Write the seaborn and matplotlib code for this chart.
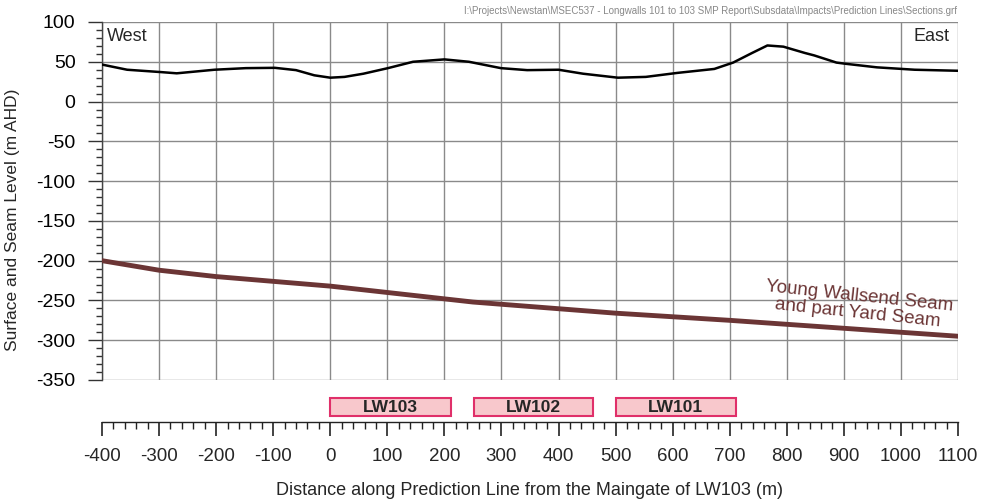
import numpy as np
import pandas as pd
import matplotlib
matplotlib.use("Agg")
import matplotlib.pyplot as plt
import seaborn as sns
from matplotlib.ticker import MultipleLocator

# ---- data ----
surf_x = [-400, -356, -296, -269, -247, -203, -148, -97, -60, -28, 0, 25, 58, 101,
          145, 200, 243, 299, 345, 400, 443, 504, 553, 608, 673, 706, 739, 766,
          794, 832, 848, 887, 903, 958, 1024, 1100]
surf_y = [46.5, 40, 37, 35.5, 37, 40, 42, 42.4, 39.5, 33, 30, 31, 35, 42,
          50, 53, 50, 42, 39.5, 40, 35, 30, 31, 36, 41, 49, 61, 70.5,
          69, 61, 58, 49, 47.5, 43, 40, 38.7]
seam_x = [-400, -300, -200, 0, 200, 250, 500, 700, 900, 1100]
seam_y = [-200, -212, -220, -232, -248, -252, -266, -275, -285, -295]
panel_names = ["LW103", "LW102", "LW101"]
panel_start = [0, 251, 500]
panel_end = [212, 461, 711]
path_text = r"I:\Projects\Newstan\MSEC537 - Longwalls 101 to 103 SMP Report\Subsdata\Impacts\Prediction Lines\Sections.grf"

sns.set_theme(style="white")
plt.rcParams['font.family'] = ['Liberation Sans', 'DejaVu Sans']
plt.rcParams['axes.unicode_minus'] = False

fig = plt.figure(figsize=(9.82, 5.0), dpi=100)
L, R = 102 / 982, 958 / 982
ax = fig.add_axes([L, 120 / 500, R - L, 358 / 500])
ax2 = fig.add_axes([L, 78 / 500, R - L, 30 / 500])

surf = pd.DataFrame({"x": surf_x, "y": surf_y})
seam = pd.DataFrame({"x": seam_x, "y": seam_y})
sns.lineplot(data=surf, x="x", y="y", ax=ax, color="black", lw=1.8, zorder=3,
             solid_joinstyle="round")
sns.lineplot(data=seam, x="x", y="y", ax=ax, color="#6B3535", lw=3.5, zorder=3,
             solid_joinstyle="round")

ax.set_xlim(-400, 1100)
ax.set_ylim(-350, 100)
ax.xaxis.set_major_locator(MultipleLocator(100))
ax.yaxis.set_major_locator(MultipleLocator(50))
ax.yaxis.set_minor_locator(MultipleLocator(10))
ax.grid(True, which="major", color="#8a8a8a", lw=1.0)
ax.set_axisbelow(True)
for s in ["top", "right", "bottom"]:
    ax.spines[s].set_visible(False)
ax.spines["left"].set_color("#444444")
ax.spines["left"].set_linewidth(1.0)
ax.tick_params(axis="x", bottom=False, labelbottom=False)
ax.tick_params(axis="y", which="major", left=True, length=10, width=1, color="#333333",
               labelsize=14, pad=9, labelcolor="black")
ax.tick_params(axis="y", which="minor", left=True, length=4, width=1, color="#333333")
ax.set_xlabel("")
ax.set_ylabel("Surface and Seam Level (m AHD)", fontsize=12.5)
ax.yaxis.set_label_coords(-0.096, 0.447)
ax.text(-392, 82, "West", fontsize=13, ha="left", va="center")
ax.text(1085, 82, "East", fontsize=13, ha="right", va="center")
ax.text(925, -255, "Young Wallsend Seam\nand part Yard Seam", fontsize=13.5,
        color="#6B3535", ha="center", va="center", rotation=-6, linespacing=1.0)
fig.text(0.975, 0.978, path_text, fontsize=7, color="#888888", ha="right", va="center")

# lower panel axis
ax2.barh([0.5] * 3, [e - s for s, e in zip(panel_start, panel_end)], left=panel_start,
         height=0.62, color="#F8C8CC", edgecolor="#E0306A", lw=1.5)
for n, s, e in zip(panel_names, panel_start, panel_end):
    ax2.text((s + e) / 2, 0.5, n, ha="center", va="center", fontsize=12.5, fontweight="bold")
ax2.set_xlim(-400, 1100)
ax2.set_ylim(1, 0)
ax2.set_yticks([])
for s in ["top", "right", "left"]:
    ax2.spines[s].set_visible(False)
ax2.spines["bottom"].set_color("#222222")
ax2.spines["bottom"].set_linewidth(1.0)
ax2.xaxis.set_major_locator(MultipleLocator(100))
ax2.xaxis.set_minor_locator(MultipleLocator(20))
ax2.tick_params(axis="x", which="major", bottom=True, direction="out", length=10, width=1.2,
                color="#222222", labelsize=13.5, pad=9)
ax2.tick_params(axis="x", which="minor", bottom=True, direction="out", length=5, width=1, color="#222222")
ax2.set_xlabel("Distance along Prediction Line from the Maingate of LW103 (m)", fontsize=13, labelpad=12)
ax2.set_ylabel("")

fig.savefig("out.png", dpi=100)
